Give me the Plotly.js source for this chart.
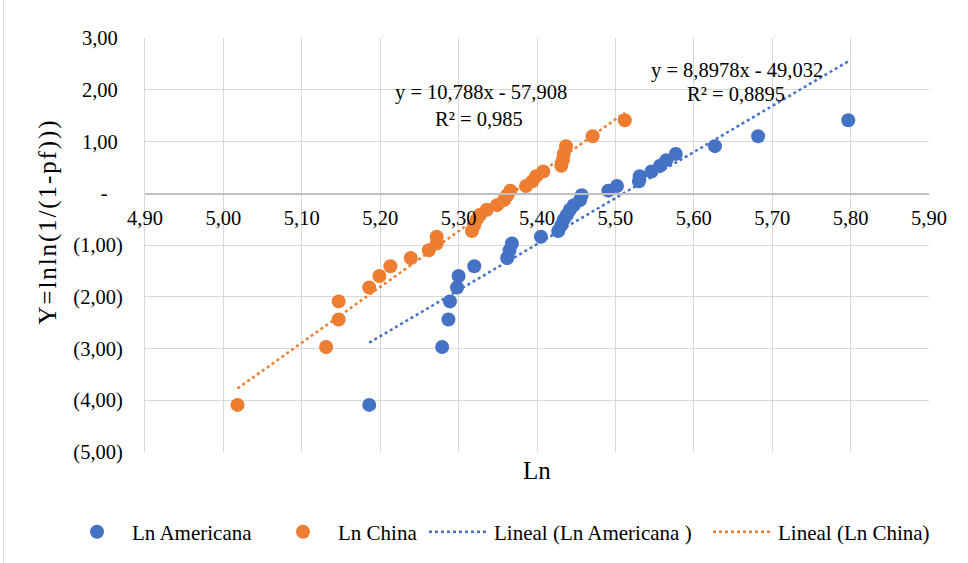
<!DOCTYPE html>
<html>
<head>
<meta charset="utf-8">
<script src="https://cdn.plot.ly/plotly-3.0.1.min.js"></script>
<style>
  html, body { margin: 0; padding: 0; background: #fff; }
  #wrap { position: relative; width: 968px; height: 563px; }
  #chart { width: 968px; height: 563px; }
  #frame { position: absolute; left: 3px; top: 0; width: 0; height: 563px; border-left: 1px solid #d9d9d9; pointer-events: none; }
</style>
</head>
<body>
<div id="wrap"><div id="chart"></div><div id="frame"></div></div>
<script>
// Weibull plotting positions (shared Y values)
const yWeibull = [-4.09, -2.97, -2.44, -2.09, -1.82, -1.60, -1.41, -1.25, -1.10, -0.97,
                  -0.84, -0.73, -0.62, -0.51, -0.42, -0.32, -0.23, -0.13, -0.04, 0.05,
                  0.14, 0.23, 0.33, 0.42, 0.53, 0.64, 0.76, 0.91, 1.10, 1.41];

// Ln Americana
const xAmericana = [5.186, 5.279, 5.287, 5.289, 5.298, 5.300, 5.320, 5.362, 5.365, 5.368,
                    5.405, 5.427, 5.431, 5.434, 5.438, 5.442, 5.447, 5.455, 5.457, 5.491,
                    5.502, 5.530, 5.531, 5.546, 5.557, 5.565, 5.577, 5.627, 5.682, 5.797];

// Ln China
const xChina = [5.018, 5.131, 5.147, 5.147, 5.186, 5.199, 5.213, 5.239, 5.262, 5.272,
                5.272, 5.317, 5.320, 5.323, 5.327, 5.336, 5.349, 5.358, 5.362, 5.366,
                5.386, 5.394, 5.399, 5.408, 5.431, 5.433, 5.434, 5.437, 5.471, 5.512];

// Linear trendline coefficients shown on the chart
const trendAmericana = [8.8978, -49.032];   // slope, intercept
const trendChina = [10.788, -57.908];

const eqAmericana = ["y = 8,8978x - 49,032", "R² = 0,8895"];
const eqChina = ["y = 10,788x - 57,908", "R² = 0,985"];

const seriesNames = ["Ln Americana", "Ln China", "Lineal (Ln Americana )", "Lineal (Ln China)"];

const xTickVals = [4.9, 5.0, 5.1, 5.2, 5.3, 5.4, 5.5, 5.6, 5.7, 5.8, 5.9];
const xTickText = ["4,90", "5,00", "5,10", "5,20", "5,30", "5,40", "5,50", "5,60", "5,70", "5,80", "5,90"];
const yTickVals = [-5, -4, -3, -2, -1, 0, 1, 2, 3];
const yTickText = ["(5,00)", "(4,00)", "(3,00)", "(2,00)", "(1,00)", "-", "1,00", "2,00", "3,00"];

const xTitle = "Ln";
const yTitle = "Y=lnln(1/(1-pf)))";

const BLUE = "#4472C4", ORANGE = "#ED7D31";
const FONT = "'Times New Roman', 'Liberation Serif', Times, serif";

function trendLine(xs, coef) {
  const x0 = Math.min(...xs), x1 = Math.max(...xs);
  return { x: [x0, x1], y: [coef[0] * x0 + coef[1], coef[0] * x1 + coef[1]] };
}
const tUS = trendLine(xAmericana, trendAmericana);
const tCN = trendLine(xChina, trendChina);

const yTickLabels = yTickText.map(t => t.startsWith("(") ? t : (t === "-" ? t + "\u00a0\u00a0\u00a0" : t + "\u00a0"));

const data = [
  { type: "scatter", mode: "markers", name: seriesNames[0], x: xAmericana, y: yWeibull,
    marker: { color: BLUE, size: 14 }, legend: "legend" },
  { type: "scatter", mode: "markers", name: seriesNames[1], x: xChina, y: yWeibull,
    marker: { color: ORANGE, size: 14 }, legend: "legend2" },
  { type: "scatter", mode: "lines", name: seriesNames[2], x: tUS.x, y: tUS.y,
    line: { color: BLUE, width: 2.5, dash: "dot" }, legend: "legend3" },
  { type: "scatter", mode: "lines", name: seriesNames[3], x: tCN.x, y: tCN.y,
    line: { color: ORANGE, width: 2.5, dash: "dot" }, legend: "legend4" }
];

function legendAt(xpx) {
  return { orientation: "h", xref: "container", yref: "container",
           x: xpx / 968, xanchor: "left", y: 0.055, yanchor: "middle",
           itemwidth: 60, bgcolor: "rgba(0,0,0,0)",
           font: { family: FONT, size: 21, color: "#000" } };
}

const layout = {
  width: 968, height: 563,
  margin: { l: 145, r: 39, t: 38, b: 111 },
  paper_bgcolor: "#fff", plot_bgcolor: "#fff",
  font: { family: FONT, size: 20, color: "#000" },
  showlegend: true,
  legend: legendAt(62),
  legend2: legendAt(268),
  legend3: legendAt(424),
  legend4: legendAt(708),
  xaxis: {
    range: [4.9, 5.9], tickmode: "array", tickvals: xTickVals, ticktext: xTickText,
    anchor: "free", position: 0.625,
    showgrid: true, gridcolor: "#d9d9d9", gridwidth: 1,
    showline: true, linecolor: "#bfbfbf", linewidth: 1.5,
    zeroline: false, ticks: "outside", ticklen: 6, tickcolor: "rgba(0,0,0,0)",
    tickfont: { family: FONT, size: 20.5, color: "#000" }
  },
  yaxis: {
    range: [-5, 3], tickmode: "array", tickvals: yTickVals, ticktext: yTickLabels,
    showgrid: true, gridcolor: "#d9d9d9", gridwidth: 1,
    showline: true, linecolor: "#d9d9d9", linewidth: 1,
    zeroline: false, ticks: "outside", ticklen: 17, tickcolor: "rgba(0,0,0,0)",
    tickfont: { family: FONT, size: 20.5, color: "#000" }
  },
  annotations: [
    { xref: "paper", yref: "paper", x: 0.7557, y: 0.9215, text: eqAmericana[0], showarrow: false,
      xanchor: "center", yanchor: "middle", font: { family: FONT, size: 20.5, color: "#000" } },
    { xref: "paper", yref: "paper", x: 0.7538, y: 0.8642, text: eqAmericana[1], showarrow: false,
      xanchor: "center", yanchor: "middle", font: { family: FONT, size: 20.5, color: "#000" } },
    { xref: "paper", yref: "paper", x: 0.4286, y: 0.8676, text: eqChina[0], showarrow: false,
      xanchor: "center", yanchor: "middle", font: { family: FONT, size: 20.5, color: "#000" } },
    { xref: "paper", yref: "paper", x: 0.426, y: 0.8039, text: eqChina[1], showarrow: false,
      xanchor: "center", yanchor: "middle", font: { family: FONT, size: 20.5, color: "#000" } },
    { xref: "paper", yref: "paper", x: 0.5, y: -0.0435, text: xTitle, showarrow: false,
      xanchor: "center", yanchor: "middle", font: { family: FONT, size: 25, color: "#000" } },
    { xref: "paper", yref: "paper", x: -0.1237, y: 0.557, text: yTitle, showarrow: false, textangle: -90,
      xanchor: "center", yanchor: "middle", font: { family: FONT, size: 25, color: "#000" } }
  ]
};

Plotly.newPlot("chart", data, layout, { displayModeBar: false, staticPlot: true }).then(() => {
  document.querySelectorAll("#chart text").forEach(t => {
    if (t.textContent === yTitle) t.style.letterSpacing = "1.9px";
  });
});
</script>
</body>
</html>
